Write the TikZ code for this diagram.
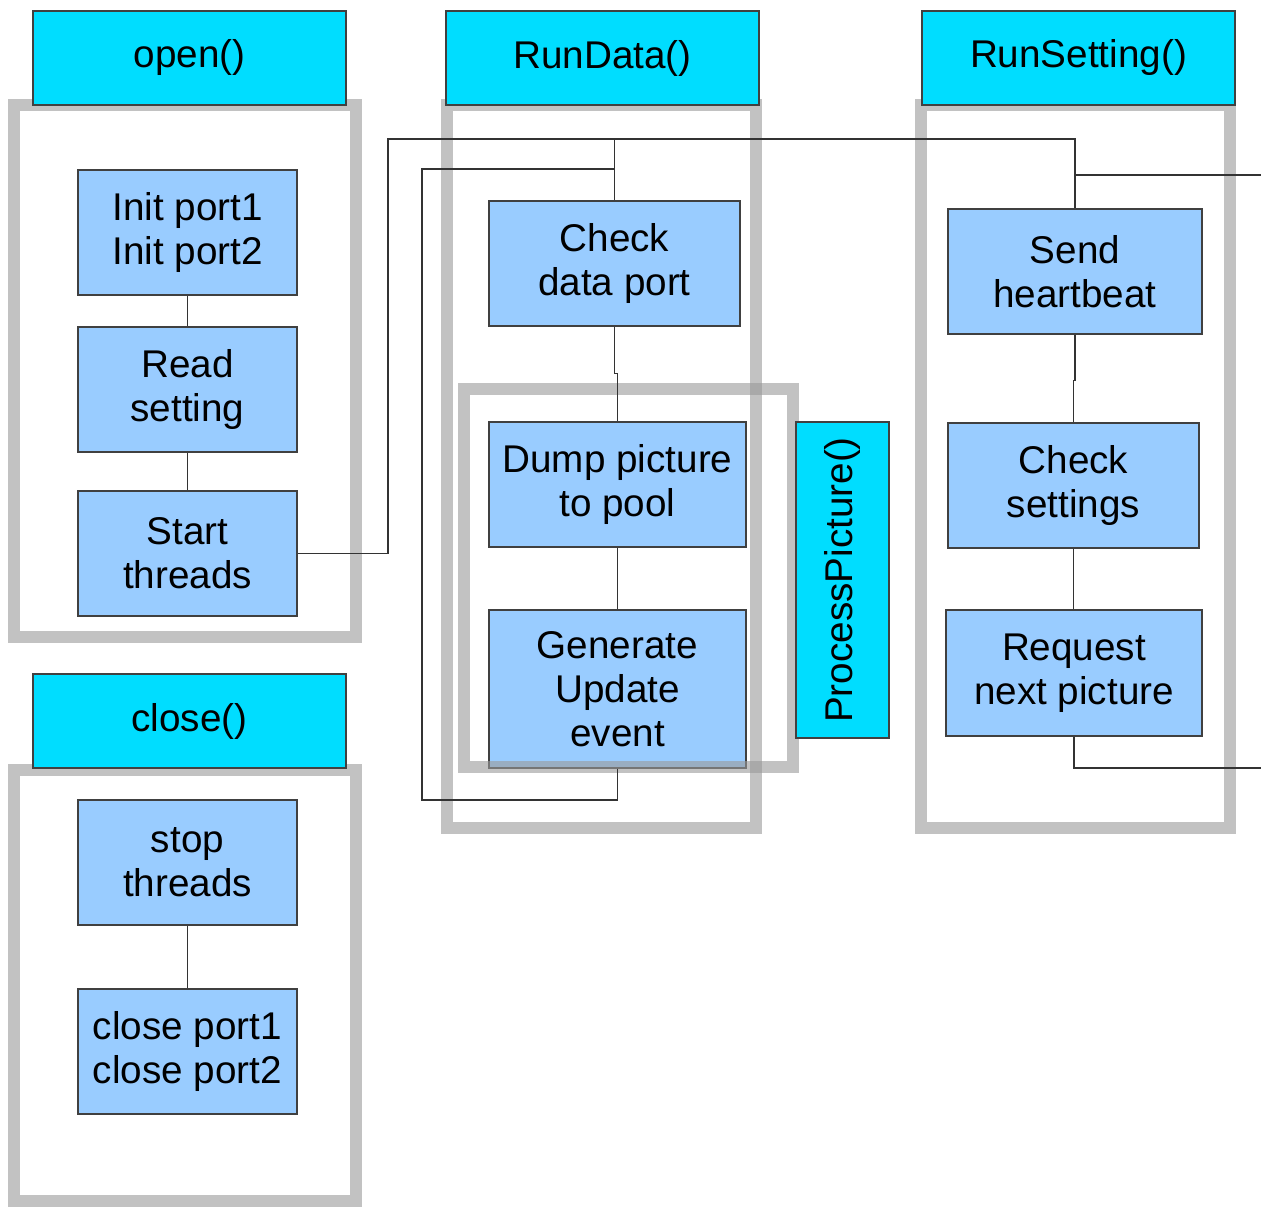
\documentclass[tikz,border=0pt]{standalone}
\usepackage{fontspec}
\setmainfont{Liberation Sans}
\definecolor{titlecyan}{HTML}{00DDFF}
\definecolor{taskblue}{HTML}{99CCFF}

\begin{document}
\begin{tikzpicture}[x=0.02cm, y=-0.02cm,
    task/.style={rectangle, draw=black!75, line width=0.6pt, fill=taskblue, align=center,
                 inner sep=0pt, font=\fontsize{22}{25}\selectfont},
    title/.style={rectangle, draw=black!75, line width=0.6pt, fill=titlecyan, inner sep=0pt,
                  minimum width=313*0.02cm, minimum height=94*0.02cm, font=\fontsize{22}{25}\selectfont},
    frame/.style={draw=black!40, draw opacity=0.6, line width=6.8pt},
    link/.style={draw=black!80, line width=0.7pt}]
      \useasboundingbox (0,0) rectangle (1261,1207);

      % steps of each function
      \node at (187.5,232.5)  [task, minimum width=219*0.02cm, minimum height=125*0.02cm] (init)       {Init port1\\ Init port2};
      \node at (187.5,389.5)  [task, minimum width=219*0.02cm, minimum height=125*0.02cm] (read)       {Read\\ setting};
      \node at (187.5,553.5)  [task, minimum width=219*0.02cm, minimum height=125*0.02cm] (start)      {Start\\ threads};
      \node at (187.5,862.5)  [task, minimum width=219*0.02cm, minimum height=125*0.02cm] (stop)       {stop\\ threads};
      \node at (187.5,1051.5) [task, minimum width=219*0.02cm, minimum height=125*0.02cm] (closeports) {close port1\\ close port2};

      \node at (614.5,263.5)  [task, minimum width=251*0.02cm, minimum height=125*0.02cm] (checkdata)  {Check\\ data port};
      \node at (617.5,484.5)  [task, minimum width=257*0.02cm, minimum height=125*0.02cm] (dump)       {Dump picture\\ to pool};
      \node at (617.5,689)    [task, minimum width=257*0.02cm, minimum height=158*0.02cm] (generate)   {Generate\\ Update\\ event};

      \node at (1075,271.5)   [task, minimum width=254*0.02cm, minimum height=125*0.02cm] (send)       {Send\\ heartbeat};
      \node at (1073.5,485.5) [task, minimum width=251*0.02cm, minimum height=125*0.02cm] (checkset)   {Check\\ settings};
      \node at (1074,673)     [task, minimum width=256*0.02cm, minimum height=126*0.02cm] (request)    {Request\\ next picture};

      % grey frames round the functions
      \draw[frame] (14,105)  rectangle (356,637);
      \draw[frame] (14,770)  rectangle (356,1201);
      \draw[frame] (447,105) rectangle (756,828);
      \draw[frame] (464,389) rectangle (793,767);
      \draw[frame] (921,105) rectangle (1230,828);

      % function names
      \node at (189.5,58)   [title] (open)       {open()};
      \node at (602.5,58)   [title] (rundata)    {RunData()};
      \node at (1078.5,58)  [title] (runsetting) {RunSetting()};
      \node at (189.5,721)  [title] (close)      {close()};
      \node at (842.5,580)  [title, rotate=90, minimum width=316*0.02cm, minimum height=93*0.02cm] (process) {ProcessPicture()};

      % connections
      \coordinate (bus)   at (388,139);
      \coordinate (loopa) at (422,800);
      \coordinate (loopb) at (422,169);
      \coordinate (outa)  at (1261,175);
      \coordinate (outb)  at (1261,768);

      \draw[link] (init)  --(read);
      \draw[link] (read)  --(start);
      \draw[link] (stop)  --(closeports);

      \draw[link] (start.east) -| (bus) -| (send.north);
      \draw[link] (checkdata.north) -- (checkdata.north |- bus);
      \draw[link] (generate.south) |- (loopa) -- (loopb) -| (checkdata.north);
      \draw[link] (checkdata.south) -- ++(0,47) -| (dump.north);
      \draw[link] (dump.south) -- (dump.south |- generate.north);

      \draw[link] (send.north |- outa) -- (outa);
      \draw[link] (send.south) -- ++(0,46) -| (checkset.north);
      \draw[link] (checkset.south) -- (checkset.south |- request.north);
      \draw[link] (request.south) |- (outb);
\end{tikzpicture}
\end{document}
